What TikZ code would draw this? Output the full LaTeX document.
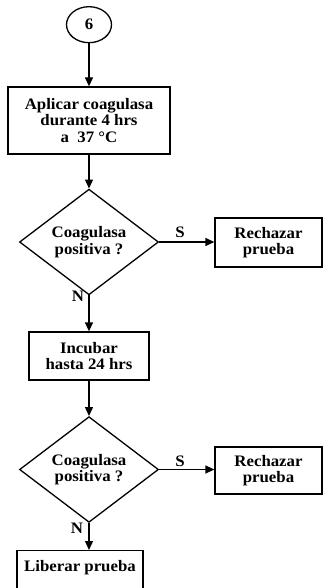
\documentclass[tikz,border=0pt]{standalone}
\usepackage{fontspec}
\setmainfont{Liberation Serif}
\newfontfamily\chartfont[FakeStretch=1.05]{Liberation Serif}
\usetikzlibrary{shapes.geometric,arrows.meta}
\begin{document}
\begin{tikzpicture}[x=1pt,y=-1pt,
  every node/.style={font=\chartfont\bfseries\fontsize{16}{16.5}\selectfont},
  link/.style={line width=1.3pt},
  flow/.style={link, -{Triangle[length=9pt,width=8pt]}},
  proc/.style={draw, line width=1.3pt, rectangle, align=center, inner sep=0pt},
  decide/.style={draw, line width=1.3pt, diamond, align=center, inner sep=0pt,
                 minimum width=139pt, minimum height=88pt},
  connector/.style={draw, line width=1.3pt, ellipse, inner sep=0pt,
                    minimum width=45pt, minimum height=36pt},
  tag/.style={inner sep=0pt}]
\useasboundingbox (0,0) rectangle (323,588);
\clip (0,0) rectangle (323,588);

% main column
\node[connector] (c6) at (89,24.7) {6};
\node[proc, minimum width=162pt, minimum height=67pt] (b1) at (89,120.5)
  {Aplicar coagulasa\\durante 4 hrs\\a\ \ 37 °C};
\node[decide] (d1) at (89,242)
  {\fontsize{16}{15.5}\selectfont Coagulasa\\positiva ?};
\node[proc, minimum width=120pt, minimum height=48pt] (b2) at (89,356)
  {Incubar\\hasta 24 hrs};
\node[decide] (d2) at (89,469.5)
  {\fontsize{16}{15.5}\selectfont Coagulasa\\positiva ?};
\node[proc, minimum width=126pt, anchor=north, text height=21pt, text depth=30pt] (b3) at (80,550)
  {Liberar prueba};

% rejection branch
\node[proc, minimum width=107pt, minimum height=49pt] (r1) at (268.5,242.5)
  {Rechazar\\prueba};
\node[proc, minimum width=107pt, minimum height=47pt] (r2) at (268.5,470.5)
  {Rechazar\\prueba};

% connectors
\draw[flow] (c6.south) -- (c6.south |- b1.north);
\draw[flow] (b1.south -| d1.north) -- (d1.north);
\draw[flow] (d1.south) -- (d1.south |- b2.north);
\draw[flow] (b2.south -| d2.north) -- (d2.north);
\draw[flow] (d2.south) -- (d2.south |- b3.north);
\draw[flow] (d1.east) -- (d1.east -| r1.west);
\draw[flow] (d2.east) -- (d2.east -| r2.west);

% branch labels
\node[tag] (s1) at (180,232) {S};
\node[tag] (s2) at (180,461) {S};
\node[tag] (n1) at (78,296) {N};
\node[tag] (n2) at (77,528) {N};
\end{tikzpicture}
\end{document}
